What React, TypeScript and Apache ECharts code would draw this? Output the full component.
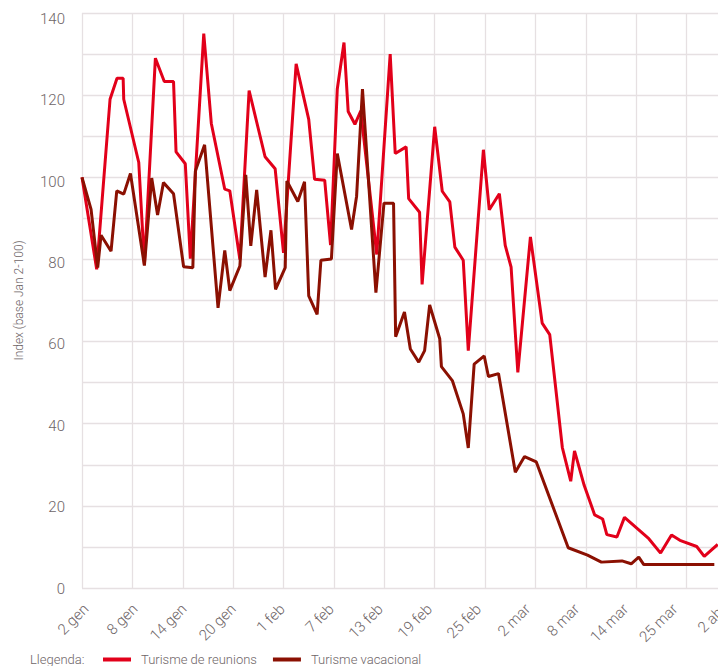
import React, { useEffect, useRef } from "react";
import * as echarts from "echarts";

const xTickLabels = [
  "2 gen", "8 gen", "14 gen", "20 gen", "1 feb", "7 feb", "13 feb",
  "19 feb", "25 feb", "2 mar", "8 mar", "14 mar", "25 mar", "2 abr",
];

const reunionsX = [
  0, 1.75, 3.34, 4.17, 4.9, 4.97, 6.76, 7.43, 8.74, 9.8, 10.9, 11.2, 12.3, 12.9,
  14.5, 15.4, 17.0, 17.6, 18.8, 19.9, 21.8, 23.0, 24.0, 25.5, 27.0, 27.7, 28.9,
  29.6, 30.4, 31.2, 31.7, 32.5, 33.2, 35.1, 36.7, 37.3, 38.6, 38.9, 40.2, 40.5,
  42.0, 42.9, 43.8, 44.4, 45.4, 46.0, 47.8, 48.5, 49.7, 50.4, 51.1, 51.9, 53.4,
  54.8, 55.7, 57.2, 58.2, 58.65, 59.8, 61.05, 62.0, 62.5, 63.7, 64.6, 67.5, 68.9,
  70.2, 71.2, 73.2, 74.1, 75.7,
];
const reunionsY = [
  100, 77.6, 119, 124.1, 124.1, 119, 103.6, 78.8, 129, 123.3, 123.3, 106.2, 103.3, 80.2,
  135, 113.1, 97.1, 96.7, 80, 121.1, 105, 102.1, 81.6, 127.6, 114.1, 99.5, 99.3,
  83.5, 121.5, 132.8, 116, 112.9, 116.2, 81.2, 130, 105.8, 107.4, 94.8, 91.5, 73.9,
  112.3, 96.6, 94, 83, 79.8, 57.8, 106.7, 92.1, 96, 83.4, 78.1, 52.5, 85.5,
  64.5, 61.7, 34.2, 26, 33.4, 25, 17.8, 16.8, 13, 12.4, 17.2, 12, 8.5,
  12.9, 11.6, 10.1, 7.7, 10.6,
];

const vacacionalX = [
  0, 1.08, 1.87, 2.27, 3.46, 4.14, 4.97, 5.77, 7.43, 8.3, 9.0, 9.7, 10.9, 12.1,
  13.2, 13.5, 14.6, 16.2, 17.0, 17.6, 18.8, 19.5, 20.1, 20.8, 21.8, 22.5, 23.05,
  24.2, 24.4, 25.7, 26.5, 27.0, 28.0, 28.45, 29.7, 30.4, 32.1, 32.7, 33.4, 35.0,
  35.96, 37.1, 37.35, 38.4, 39.1, 40.1, 40.8, 41.4, 42.6, 42.8, 44.1, 45.4, 46.0,
  46.7, 47.9, 48.4, 49.6, 51.6, 52.7, 54.1, 57.9, 60.2, 61.85, 64.3, 65.4, 66.3,
  66.9, 75.3,
];
const vacacionalY = [
  100, 92.2, 78, 85.9, 82, 96.7, 95.9, 100.9, 78.5, 99.8, 90.8, 98.7, 96, 78.2,
  78, 101.5, 107.9, 68.2, 82.2, 72.4, 78.4, 100.6, 83.3, 96.9, 75.7, 87.1, 72.7,
  78, 99.1, 94.1, 98.9, 71.1, 66.6, 79.8, 80.1, 105.8, 87.3, 95.4, 121.5, 71.9,
  93.7, 93.7, 61.2, 67.2, 58.2, 55, 57.8, 68.9, 60.7, 53.9, 50.5, 42.4, 34.1,
  54.5, 56.5, 51.5, 52.2, 28.2, 32, 30.7, 9.8, 8, 6.3, 6.6, 5.9, 7.5,
  5.7, 5.7,
];

const TEXT = "#6e6567";
const GRID = "#e6e0e2";
const FONT = "Roboto, 'Liberation Sans', sans-serif";

export default function App() {
  const ref = useRef<HTMLDivElement>(null);
  useEffect(() => {
    if (!ref.current) return;
    const chart = echarts.init(ref.current, undefined, { renderer: "svg" });
    const zip = (xs: number[], ys: number[]) => xs.map((x, i) => [x, ys[i]]);
    chart.setOption({
      animation: false,
      grid: [
        { left: 82, right: -19, top: 13, bottom: 78, containLabel: false, outerBoundsMode: "none" },
        // label layer: the reference's tick labels sit on a slightly tighter spacing than its grid
        { left: 86, right: -6, top: 19, bottom: 77.5, containLabel: false, outerBoundsMode: "none" },
      ],
      graphic: [
        {
          type: "text",
          left: 30,
          top: 653,
          style: { text: "Llegenda:", fontSize: 13, fill: TEXT, fontFamily: FONT, fontWeight: 300 },
        },
      ],
      legend: {
        left: 103,
        top: 653,
        padding: 0,
        icon: "rect",
        itemWidth: 28,
        itemHeight: 4,
        itemGap: 16,
        textStyle: { fontSize: 13, color: TEXT, fontFamily: FONT, fontWeight: 300, padding: [0, 0, 0, 5] },
        data: ["Turisme de reunions", "Turisme vacacional"],
      },
      xAxis: [
        {
          type: "value",
          gridIndex: 0,
          min: 0,
          max: 78,
          interval: 6,
          axisLine: { show: false },
          axisTick: { show: false },
          axisLabel: { show: false },
          splitLine: { show: true, lineStyle: { color: GRID, width: 1.3 } },
        },
        {
          type: "value",
          gridIndex: 1,
          min: 0,
          max: 78,
          interval: 6,
          axisLine: { show: false },
          axisTick: { show: false },
          splitLine: { show: false },
          axisLabel: {
            rotate: 45,
            margin: 18,
            fontSize: 15,
            color: TEXT,
            fontFamily: FONT,
            fontWeight: 300,
            hideOverlap: false,
            showMinLabel: true,
            showMaxLabel: true,
            formatter: (v: number) => xTickLabels[Math.round(v / 6)] ?? "",
          },
        },
      ],
      yAxis: [
        {
          type: "value",
          gridIndex: 0,
          min: 0,
          max: 140,
          interval: 10,
          name: "Index (base Jan 2-100)",
          nameLocation: "middle",
          nameGap: 57,
          nameTextStyle: { fontSize: 12, color: TEXT, fontFamily: FONT, fontWeight: 300 },
          axisLine: { show: false },
          axisTick: { show: false },
          axisLabel: { show: false },
          splitLine: { show: true, lineStyle: { color: GRID, width: 1.3 } },
        },
        {
          type: "value",
          gridIndex: 1,
          min: 0,
          max: 140,
          interval: 20,
          axisLine: { show: false },
          axisTick: { show: false },
          splitLine: { show: false },
          axisLabel: {
            margin: 21,
            fontSize: 15,
            color: TEXT,
            fontFamily: FONT,
            fontWeight: 300,
          },
        },
      ],
      series: [
        {
          name: "Turisme de reunions",
          type: "line",
          xAxisIndex: 0,
          yAxisIndex: 0,
          data: zip(reunionsX, reunionsY),
          showSymbol: false,
          symbol: "none",
          color: "#e2001a",
          lineStyle: { width: 3, color: "#e2001a" },
        },
        {
          name: "Turisme vacacional",
          type: "line",
          xAxisIndex: 0,
          yAxisIndex: 0,
          data: zip(vacacionalX, vacacionalY),
          showSymbol: false,
          symbol: "none",
          color: "#8b1002",
          lineStyle: { width: 3, color: "#8b1002" },
        },
      ],
    });
    return () => chart.dispose();
  }, []);
  return (
    <div
      ref={ref}
      style={{ position: "absolute", left: 0, top: 0, width: 718, height: 666 }}
    />
  );
}
